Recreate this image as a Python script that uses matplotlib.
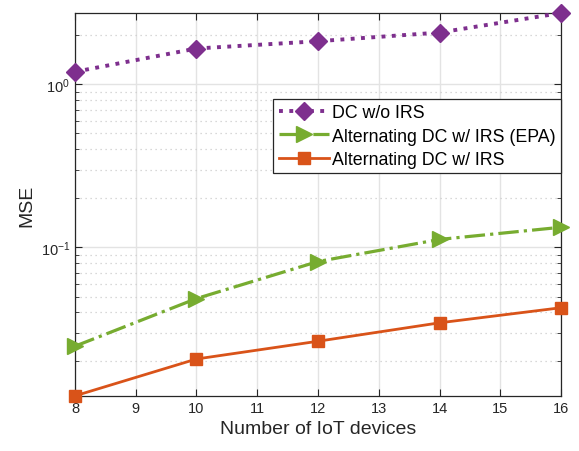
import numpy as np
import matplotlib
matplotlib.use("Agg")
import matplotlib.pyplot as plt
from matplotlib.ticker import LogLocator, NullFormatter

plt.rcParams['font.family'] = ['Liberation Sans', 'DejaVu Sans']
plt.rcParams['mathtext.fontset'] = 'custom'
plt.rcParams['mathtext.rm'] = 'Liberation Sans'

# datos
devices = [8, 10, 12, 14, 16]
mse_no_irs = [1.195, 1.66, 1.84, 2.08, 2.74]
mse_epa = [0.0248, 0.0486, 0.082, 0.112, 0.133]
mse_alt = [0.0123, 0.0207, 0.0266, 0.0345, 0.0427]

fig = plt.figure(figsize=(5.79, 4.52), dpi=100)
ax = fig.add_axes([0.1295, 0.122, 0.8395, 0.847])

ax.plot(devices, mse_no_irs, color='#7E2F8E', linestyle=':', linewidth=2.8,
        marker='D', markersize=9, label='DC w/o IRS', clip_on=False, zorder=5)
ax.plot(devices, mse_epa, color='#77AC30', linestyle='-.', linewidth=2.3,
        marker='>', markersize=11, label='Alternating DC w/ IRS (EPA)', clip_on=False, zorder=5)
ax.plot(devices, mse_alt, color='#D95319', linestyle='-', linewidth=2.0,
        marker='s', markersize=8.5, label='Alternating DC w/ IRS', clip_on=False, zorder=5)

ax.set_yscale('log')
ax.set_xlim(8, 16)
ax.set_ylim(min(mse_alt), max(mse_no_irs))
ax.set_xticks(range(8, 17))
ax.yaxis.set_major_locator(LogLocator(base=10))
ax.yaxis.set_minor_locator(LogLocator(base=10, subs=np.arange(2, 10)))
ax.yaxis.set_minor_formatter(NullFormatter())

ax.grid(True, which='major', color='#e3e3e3', linewidth=1.0)
ax.grid(True, which='minor', axis='y', color='#cccccc', linestyle=(0, (1, 3)), linewidth=0.9)
ax.set_axisbelow(True)

ax.tick_params(which='both', direction='in', top=True, right=True, labelsize=10.5, colors='#262626')
ax.tick_params(which='major', length=5)
ax.tick_params(which='minor', length=3)
for s in ax.spines.values():
    s.set_color('#262626')
    s.set_linewidth(0.9)

ax.set_xlabel('Number of IoT devices', fontsize=14, color='#262626')
ax.set_ylabel('MSE', fontsize=14, color='#262626')

leg = ax.legend(loc='upper right', bbox_to_anchor=(1.0, 0.775), fontsize=12.8,
                fancybox=False, framealpha=1, edgecolor='#262626',
                handlelength=2.8, borderpad=0.3, labelspacing=0.35, handletextpad=0.2,
                borderaxespad=0.0)
leg.get_frame().set_linewidth(0.9)
leg.set_zorder(10)

fig.savefig('out.png', dpi=100)
